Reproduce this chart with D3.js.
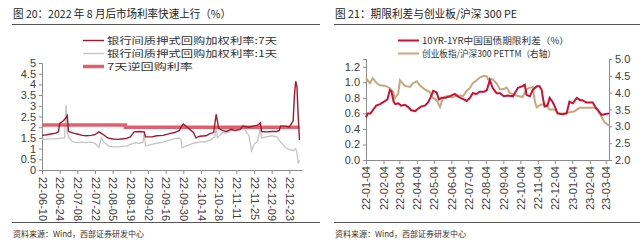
<!DOCTYPE html>
<html>
<head>
<meta charset="utf-8">
<script src="https://cdn.jsdelivr.net/npm/d3@7"></script>
<style>
  body { margin: 0; background: #fff; }
  svg text { font-family: "Liberation Sans", Arial, "Noto Sans CJK SC", sans-serif; }
</style>
</head>
<body>
<div id="chart"></div>
<script>
// ---- data ----
// chart 20 : interbank pledged repo rates
var r7Dates = ["2022-06-10","2022-06-14","2022-06-17","2022-06-21","2022-06-23","2022-06-24","2022-06-27","2022-06-29","2022-06-30",
  "2022-07-01","2022-07-05","2022-07-08","2022-07-12","2022-07-15","2022-07-19","2022-07-22","2022-07-25","2022-07-28",
  "2022-08-01","2022-08-05","2022-08-09","2022-08-12","2022-08-16","2022-08-19","2022-08-22","2022-08-26","2022-08-30","2022-08-31",
  "2022-09-05","2022-09-09","2022-09-14","2022-09-19","2022-09-23","2022-09-27","2022-09-28","2022-09-30",
  "2022-10-08","2022-10-10","2022-10-13","2022-10-18","2022-10-21","2022-10-24","2022-10-26","2022-10-28","2022-10-31",
  "2022-11-03","2022-11-07","2022-11-10","2022-11-14","2022-11-16","2022-11-21","2022-11-24","2022-11-28","2022-11-30",
  "2022-12-01","2022-12-05","2022-12-09","2022-12-13","2022-12-15","2022-12-16","2022-12-20","2022-12-23","2022-12-26",
  "2022-12-27","2022-12-28","2022-12-29","2022-12-30","2022-12-31"];
var r7Values = [1.62,1.65,1.68,1.72,1.78,2.18,2.3,2.45,2.55,
  1.8,1.72,1.68,1.62,1.6,1.62,1.65,1.78,1.68,
  1.5,1.45,1.43,1.45,1.48,1.55,1.78,1.8,1.78,1.55,
  1.55,1.6,1.62,1.7,1.75,1.85,2.0,2.15,
  1.75,1.5,1.58,1.6,1.7,1.75,2.6,1.95,1.85,
  1.8,1.9,1.85,1.9,2.05,2.0,2.05,2.1,2.2,
  1.8,1.78,1.8,1.8,1.85,2.05,2.05,2.0,2.3,
  3.5,4.15,3.9,2.5,1.4];

var r1Dates = ["2022-06-10","2022-06-15","2022-06-20","2022-06-24","2022-06-28","2022-06-29","2022-06-30",
  "2022-07-01","2022-07-04","2022-07-08","2022-07-12","2022-07-15","2022-07-19","2022-07-22","2022-07-25","2022-07-27","2022-07-29",
  "2022-08-02","2022-08-05","2022-08-09","2022-08-12","2022-08-16","2022-08-19","2022-08-23","2022-08-26","2022-08-29","2022-08-30","2022-08-31",
  "2022-09-05","2022-09-09","2022-09-14","2022-09-19","2022-09-23","2022-09-27","2022-09-28","2022-09-29",
  "2022-10-08","2022-10-12","2022-10-17","2022-10-21","2022-10-25","2022-10-26","2022-10-27","2022-10-31",
  "2022-11-03","2022-11-07","2022-11-10","2022-11-14","2022-11-17","2022-11-21","2022-11-23","2022-11-25","2022-11-28","2022-11-30",
  "2022-12-01","2022-12-05","2022-12-09","2022-12-13","2022-12-16","2022-12-20","2022-12-23","2022-12-26","2022-12-28","2022-12-29","2022-12-30","2022-12-31"];
var r1Values = [1.42,1.45,1.45,1.48,1.5,3.05,1.75,
  1.55,1.32,1.28,1.3,1.28,1.3,1.25,1.05,1.5,1.3,
  1.12,1.08,1.08,1.1,1.12,1.2,1.28,1.25,1.3,1.75,1.12,
  1.2,1.25,1.3,1.4,1.45,1.5,1.45,1.05,
  1.25,1.3,1.32,1.4,1.55,2.0,1.5,1.75,
  1.72,1.85,1.85,1.9,1.95,1.6,0.9,1.2,1.35,2.0,
  1.5,1.55,1.6,1.55,1.3,1.05,0.95,0.9,1.0,0.8,0.3,0.45];

var repoDates = ["2022-06-10","2022-08-15","2022-12-31"];
var repoValues = [2.1,2.0,2.0];

var leftTicks = ["22-06-10","22-06-24","22-07-08","22-07-22","22-08-05","22-08-19","22-09-02","22-09-16",
  "22-09-30","22-10-14","22-10-28","22-11-11","22-11-25","22-12-09","22-12-23"];
var leftY = [0,0.5,1,1.5,2,2.5,3,3.5,4,4.5,5];

// chart 21 : term spread vs ChiNext / CSI300 PE
var spreadDates = ["2022-01-04","2022-01-07","2022-01-12","2022-01-16","2022-01-22","2022-01-29","2022-02-07","2022-02-11","2022-02-15","2022-02-18",
  "2022-02-22","2022-02-25","2022-03-02","2022-03-07","2022-03-14","2022-03-20","2022-03-25","2022-04-01","2022-04-06","2022-04-12",
  "2022-04-18","2022-04-24","2022-04-29","2022-05-03","2022-05-09","2022-05-13","2022-05-18","2022-05-25","2022-06-01","2022-06-10",
  "2022-06-15","2022-06-20","2022-06-26","2022-07-01","2022-07-07","2022-07-12","2022-07-19","2022-07-24","2022-08-01","2022-08-06",
  "2022-08-11","2022-08-16","2022-08-23","2022-08-29","2022-09-05","2022-09-12","2022-09-21","2022-09-30","2022-10-08","2022-10-12",
  "2022-10-15","2022-10-21","2022-10-26","2022-11-02","2022-11-07","2022-11-11","2022-11-13","2022-11-16","2022-11-21","2022-11-25",
  "2022-11-30","2022-12-04","2022-12-09","2022-12-18","2022-12-25","2022-12-30","2023-01-05","2023-01-12","2023-01-18","2023-01-22",
  "2023-01-29","2023-02-09","2023-02-16","2023-02-25","2023-03-02","2023-03-10"];
var spreadValues = [0.55,0.6,0.6,0.64,0.7,0.72,0.76,0.78,0.9,0.88,
  0.75,0.72,0.73,0.7,0.71,0.68,0.64,0.63,0.66,0.69,
  0.7,0.74,0.82,0.89,0.87,0.78,0.8,0.8,0.82,0.85,
  0.82,0.8,0.78,0.76,0.8,0.86,0.85,0.88,0.88,0.9,
  1.03,0.93,0.86,0.86,0.82,0.83,0.82,0.93,0.95,0.97,
  0.84,0.82,0.9,0.95,0.95,0.9,0.8,0.69,0.7,0.8,
  0.75,0.69,0.6,0.59,0.6,0.75,0.73,0.8,0.77,0.77,
  0.74,0.74,0.66,0.58,0.59,0.6];

var peDates = ["2022-01-04","2022-01-11","2022-01-16","2022-01-23","2022-01-29","2022-02-07","2022-02-15","2022-02-21","2022-02-24","2022-03-02",
  "2022-03-05","2022-03-14","2022-03-23","2022-03-28","2022-04-04","2022-04-09","2022-04-18","2022-04-27","2022-05-02","2022-05-09",
  "2022-05-15","2022-05-20","2022-05-27","2022-06-05","2022-06-15","2022-06-25","2022-07-01","2022-07-07","2022-07-12","2022-07-19",
  "2022-07-24","2022-08-01","2022-08-06","2022-08-08","2022-08-16","2022-08-23","2022-08-29","2022-09-03","2022-09-10","2022-09-15",
  "2022-09-21","2022-09-30","2022-10-08","2022-10-15","2022-10-21","2022-10-26","2022-10-30","2022-11-02","2022-11-10","2022-11-18",
  "2022-11-25","2022-12-04","2022-12-10","2022-12-20","2022-12-30","2023-01-08","2023-01-17","2023-01-29","2023-02-12","2023-02-18",
  "2023-02-25","2023-03-02","2023-03-10"];
var peValues = [4.43,4.28,4.43,4.28,4.22,4.2,4.14,4.02,3.84,3.97,
  4.37,4.2,4.17,4.28,4.34,4.22,4.1,4.02,3.85,3.78,
  3.57,3.84,3.9,3.86,3.92,3.9,4.05,4.14,4.28,4.37,
  4.45,4.5,4.48,4.4,4.4,4.28,4.1,4.1,4.15,4.0,
  3.95,3.9,3.87,4.1,4.15,4.17,3.72,3.57,3.65,3.65,
  3.5,3.5,3.38,3.38,3.42,3.45,3.55,3.55,3.55,3.5,
  3.28,3.12,3.03];

var rightTicks = ["22-01-04","22-02-04","22-03-04","22-04-04","22-05-04","22-06-04","22-07-04","22-08-04",
  "22-09-04","22-10-04","22-11-04","22-12-04","23-01-04","23-02-04","23-03-04"];
var spreadY = [0,0.2,0.4,0.6,0.8,1.0,1.2];
var peY = [2.0,2.5,3.0,3.5,4.0,4.5,5.0];

// ---- drawing ----
var parse = d3.timeParse("%Y-%m-%d");
var parseTick = d3.timeParse("%y-%m-%d");
var axisColor = "#8c8c8c", labelColor = "#404040";
var cjk = "\"Noto Sans CJK SC\", \"Liberation Sans\", sans-serif";

var svg = d3.select("#chart").append("svg").attr("width", 640).attr("height", 250);

function toPoints(dates, values) {
    return dates.map(function (d, i) { return { date: parse(d), value: values[i] }; });
}

function header(x0, x1, title, titleWidth) {
    svg.append("text").attr("x", x0 + 1).attr("y", 18).text(title)
        .attr("textLength", titleWidth).attr("lengthAdjust", "spacingAndGlyphs")
        .style("font-family", cjk).style("font-size", "11px").style("fill", "#222");
    svg.append("line").attr("x1", x0).attr("x2", x1).attr("y1", 24.5).attr("y2", 24.5)
        .style("stroke", "#555").style("stroke-width", 1);
    svg.append("line").attr("x1", x0).attr("x2", x1).attr("y1", 222.5).attr("y2", 222.5)
        .style("stroke", "#555").style("stroke-width", 1);
    svg.append("text").attr("x", x0 + 1).attr("y", 237).text("资料来源：Wind，西部证券研发中心")
        .style("font-family", cjk).style("font-size", "8px").style("fill", "#333");
}

// legend rows sit tight, like the original
function legendRow(x, y, color, width, label, textWidth) {
    svg.append("line").attr("x1", x).attr("x2", x + 21).attr("y1", y).attr("y2", y)
        .style("stroke", color).style("stroke-width", width);
    svg.append("text").attr("x", x + 24).attr("y", y).attr("dy", "0.36em").text(label)
        .attr("textLength", textWidth).attr("lengthAdjust", "spacingAndGlyphs")
        .style("font-family", cjk).style("font-size", "9px").style("fill", "#333");
}

function styleAxis(g) {
    g.selectAll("path").style("stroke", axisColor);
    g.selectAll("line").style("stroke", axisColor);
    g.selectAll("text").style("fill", labelColor).style("font-size", "11px")
        .style("font-family", "\"Liberation Sans\", Arial, sans-serif");
}

// ---------- chart 20 ----------
header(12, 320, "图 20：2022 年 8 月后市场利率快速上行（%）", 218);

var x1 = d3.scaleTime().domain([parse("2022-06-10"), parse("2023-01-02")]).range([42, 302]);
var y1 = d3.scaleLinear().domain([0, 5]).range([170, 63]);
var line1 = d3.line().x(function (d) { return x1(d.date); }).y(function (d) { return y1(d.value); });

var gy1 = svg.append("g").attr("transform", "translate(42,0)")
    .call(d3.axisLeft(y1).tickValues(leftY).tickSize(3).tickFormat(d3.format("")));
styleAxis(gy1);

svg.append("path").datum(toPoints(r1Dates, r1Values)).attr("d", line1)
    .style("fill", "none").style("stroke", "#c4c4c4").style("stroke-width", 1.3);
svg.append("path").datum(toPoints(repoDates, repoValues)).attr("d", line1.curve(d3.curveStepAfter))
    .style("fill", "none").style("stroke", "#e2606e").style("stroke-width", 3.5);
line1.curve(d3.curveLinear);
svg.append("path").datum(toPoints(r7Dates, r7Values)).attr("d", line1)
    .style("fill", "none").style("stroke", "#a3182f").style("stroke-width", 1.4);

var gx1 = svg.append("g").attr("transform", "translate(0,170)")
    .call(d3.axisBottom(x1).tickValues(leftTicks.map(parseTick)).tickSize(4).tickSizeOuter(0)
        .tickFormat(d3.timeFormat("%y-%m-%d")));
styleAxis(gx1);
gx1.selectAll("text").attr("transform", "rotate(90)").attr("x", 7).attr("y", 0)
    .attr("dy", "0.35em").style("text-anchor", "start");

legendRow(83, 40.5, "#a3182f", 1.4, "银行间质押式回购加权利率:7天", 170);
legendRow(83, 53.5, "#c4c4c4", 1.3, "银行间质押式回购加权利率:1天", 170);
legendRow(83, 66.5, "#e2606e", 3.5, "7天逆回购利率", 86);

// ---------- chart 21 ----------
header(334, 640, "图 21：期限利差与创业板/沪深 300 PE", 182);

var x2 = d3.scaleTime().domain([parse("2022-01-04"), parse("2023-03-10")]).range([366, 609]);
var y2 = d3.scaleLinear().domain([0, 1.3]).range([160, 59]);
var y3 = d3.scaleLinear().domain([2, 5]).range([160, 59]);

var gy2 = svg.append("g").attr("transform", "translate(366,0)")
    .call(d3.axisLeft(y2).tickValues(spreadY).tickSize(3).tickFormat(d3.format(".1f")));
styleAxis(gy2);
var gy3 = svg.append("g").attr("transform", "translate(609,0)")
    .call(d3.axisRight(y3).tickValues(peY).tickSize(3).tickFormat(d3.format(".1f")));
styleAxis(gy3);

svg.append("path").datum(toPoints(peDates, peValues))
    .attr("d", d3.line().x(function (d) { return x2(d.date); }).y(function (d) { return y3(d.value); }))
    .style("fill", "none").style("stroke", "#c8a780").style("stroke-width", 2);
svg.append("path").datum(toPoints(spreadDates, spreadValues))
    .attr("d", d3.line().x(function (d) { return x2(d.date); }).y(function (d) { return y2(d.value); }))
    .style("fill", "none").style("stroke", "#cc1030").style("stroke-width", 2);

var gx2 = svg.append("g").attr("transform", "translate(0,160)")
    .call(d3.axisBottom(x2).tickValues(rightTicks.map(parseTick)).tickSize(4).tickSizeOuter(0)
        .tickFormat(d3.timeFormat("%y-%m-%d")));
styleAxis(gx2);
gx2.selectAll("text").attr("transform", "rotate(-90)").attr("x", -6).attr("y", 0)
    .attr("dy", "0.35em").style("text-anchor", "end");

legendRow(398, 40.5, "#cc1030", 2, "10YR-1YR中国国债期限利差（%）", 147);
legendRow(398, 53.5, "#c8a780", 2, "创业板指/沪深300 PETTM（右轴）", 134);
</script>
</body>
</html>
